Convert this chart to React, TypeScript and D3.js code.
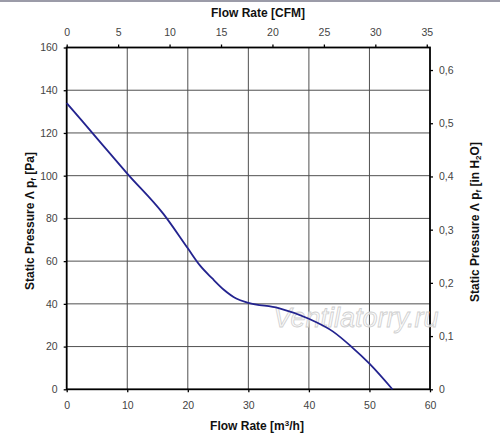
import * as d3 from "d3";
import { useEffect, useRef } from "react";

// m³/h vs Pa
const flowM3h = [0, 5, 10, 16, 20, 22, 24, 26, 28, 30, 35, 40, 44, 47, 50, 53.8];
const pressurePa = [134, 117.5, 101, 82, 66, 58, 52, 46.5, 42.5, 40.5, 38, 33, 27, 20, 12, 0];

const bottomTicks = [0, 10, 20, 30, 40, 50, 60];
const leftTicks = [0, 20, 40, 60, 80, 100, 120, 140, 160];
const topTicksCfm = [0, 5, 10, 15, 20, 25, 30, 35];
const rightTicksInH2O = [0, 0.1, 0.2, 0.3, 0.4, 0.5, 0.6];

const CFM_TO_M3H = 1.699;
const INH2O_TO_PA = 249.09;

const width = 500;
const height = 440;
const margin = { left: 66.7, right: 70, top: 47.5, bottom: 50.7 };
const FONT = "'Liberation Sans', Arial, sans-serif";

export default function App() {
  const ref = useRef<SVGSVGElement | null>(null);

  useEffect(() => {
    const svg = d3.select(ref.current);
    svg.selectAll("*").remove();

    const x = d3
      .scaleLinear()
      .domain([0, 60])
      .range([margin.left, width - margin.right]);
    const y = d3
      .scaleLinear()
      .domain([0, 160])
      .range([height - margin.bottom, margin.top]);

    svg.append("rect").attr("width", width).attr("height", height).attr("fill", "#fff");
    svg.append("rect").attr("width", width).attr("height", 2).attr("fill", "#9b9ba8");

    // grid
    const grid = svg.append("g").attr("stroke", "#505050").attr("stroke-width", 1);
    bottomTicks.slice(1, -1).forEach((t) => {
      grid.append("line")
        .attr("x1", x(t)).attr("x2", x(t))
        .attr("y1", y(0)).attr("y2", y(160));
    });
    leftTicks.slice(1, -1).forEach((t) => {
      grid.append("line")
        .attr("x1", x(0)).attr("x2", x(60))
        .attr("y1", y(t)).attr("y2", y(t));
    });

    const axisStyle = (g: d3.Selection<SVGGElement, unknown, null, undefined>) => {
      g.select(".domain").remove();
      g.selectAll(".tick line").attr("stroke", "#000").attr("stroke-width", 1.3);
      g.selectAll(".tick text")
        .attr("fill", "#444")
        .style("font-family", FONT)
        .style("font-size", "10.5px");
    };

    svg.append("g")
      .attr("transform", `translate(0,${y(0)})`)
      .call(d3.axisBottom(x).tickValues(bottomTicks).tickSize(3).tickPadding(9))
      .call(axisStyle);

    svg.append("g")
      .attr("transform", `translate(${x(0)},0)`)
      .call(d3.axisLeft(y).tickValues(leftTicks).tickSize(3).tickPadding(6))
      .call(axisStyle);

    const xCfm = d3
      .scaleLinear()
      .domain([0, 60 / CFM_TO_M3H])
      .range([margin.left, width - margin.right]);
    svg.append("g")
      .attr("transform", `translate(0,${y(160)})`)
      .call(d3.axisTop(xCfm).tickValues(topTicksCfm).tickSize(3).tickPadding(9))
      .call(axisStyle);

    const yIn = d3
      .scaleLinear()
      .domain([0, 160 / INH2O_TO_PA])
      .range([height - margin.bottom, margin.top]);
    svg.append("g")
      .attr("transform", `translate(${x(60)},0)`)
      .call(
        d3.axisRight(yIn)
          .tickValues(rightTicksInH2O)
          .tickSize(3)
          .tickPadding(6)
          .tickFormat((d) => (d === 0 ? "0" : d3.format(".1f")(d as number).replace(".", ",")))
      )
      .call(axisStyle);

    // plot frame
    svg.append("rect")
      .attr("x", x(0)).attr("y", y(160))
      .attr("width", x(60) - x(0)).attr("height", y(0) - y(160))
      .attr("fill", "none").attr("stroke", "#000").attr("stroke-width", 1.8);

    // watermark
    svg.append("text")
      .attr("x", 356).attr("y", 327)
      .attr("text-anchor", "middle")
      .style("font-family", FONT)
      .style("font-style", "italic")
      .style("font-size", "27px")
      .attr("fill", "#fafafa").attr("fill-opacity", 0.7)
      .attr("stroke", "#cfcfcf").attr("stroke-width", 0.8)
      .text("Ventilatorry.ru");

    // curve
    const pts: [number, number][] = flowM3h.map((f, i) => [f, pressurePa[i]]);
    svg.append("path")
      .datum(pts)
      .attr("fill", "none")
      .attr("stroke", "#23238f")
      .attr("stroke-width", 1.8)
      .attr("d", d3.line<[number, number]>()
        .x((d) => x(d[0]))
        .y((d) => y(d[1]))
        .curve(d3.curveMonotoneX));

    // titles
    const title = (sel: d3.Selection<SVGTextElement, unknown, null, undefined>) =>
      sel.attr("text-anchor", "middle")
        .style("font-family", FONT)
        .style("font-weight", "bold")
        .style("font-size", "12px")
        .attr("fill", "#111");

    svg.append("text").attr("x", 258).attr("y", 17).call(title).text("Flow Rate [CFM]");

    const bt = svg.append("text").attr("x", 257).attr("y", 430).call(title);
    bt.append("tspan").text("Flow Rate [m");
    bt.append("tspan").attr("dy", -4).style("font-size", "8px").text("3");
    bt.append("tspan").attr("dy", 4).text("/h]");

    const lt = svg.append("text")
      .attr("transform", "translate(34,221) rotate(-90)")
      .call(title);
    lt.append("tspan").text("Static Pressure Λ p");
    lt.append("tspan").attr("dy", 2).style("font-size", "8px").text("f");
    lt.append("tspan").attr("dy", -2).text(" [Pa]");

    const rt = svg.append("text")
      .attr("transform", "translate(479,222) rotate(-90)")
      .call(title);
    rt.append("tspan").text("Static Pressure Λ p");
    rt.append("tspan").attr("dy", 2).style("font-size", "8px").text("f");
    rt.append("tspan").attr("dy", -2).text(" [in H");
    rt.append("tspan").attr("dy", 2).style("font-size", "8px").text("2");
    rt.append("tspan").attr("dy", -2).text("O]");
  }, []);

  return (
    <svg
      ref={ref}
      width={width}
      height={height}
      style={{ position: "absolute", left: 0, top: 0, display: "block" }}
    />
  );
}
